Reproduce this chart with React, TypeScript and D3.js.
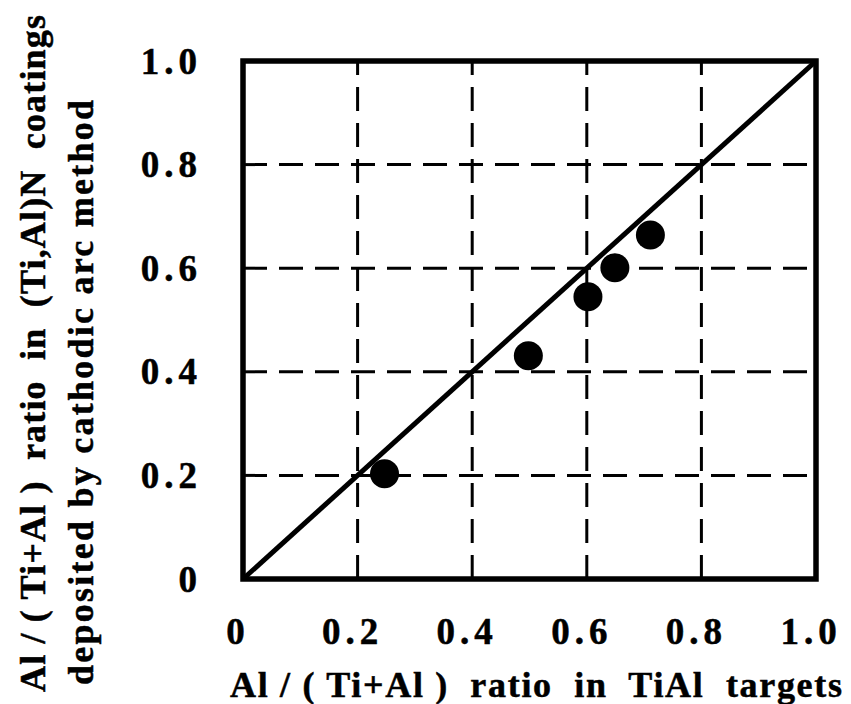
import * as d3 from "d3";

const ticks = [0, 0.2, 0.4, 0.6, 0.8, 1.0];
const tickLabels = ["0", "0.2", "0.4", "0.6", "0.8", "1.0"];
const gridValues = [0.2, 0.4, 0.6, 0.8];
const targetRatio = [0.247, 0.498, 0.602, 0.649, 0.711];
const coatingRatio = [0.203, 0.431, 0.545, 0.601, 0.664];
const xTitle = "Al / ( Ti+Al )  ratio  in  TiAl  targets";
const yTitle1 = "Al / ( Ti+Al )  ratio  in  (Ti,Al)N  coatings";
const yTitle2 = "deposited by cathodic arc method";

const App = () => {
  const width = 851;
  const height = 704;
  const plot = { left: 243, right: 816, top: 61, bottom: 579 };
  const font = "'Liberation Serif', 'Times New Roman', serif";

  const x = d3.scaleLinear().domain([0, 1]).range([plot.left, plot.right]);
  const y = d3.scaleLinear().domain([0, 1]).range([plot.bottom, plot.top]);
  const points = targetRatio.map((v, i) => ({ x: v, y: coatingRatio[i] }));
  const diag = d3.line<[number, number]>().x((d) => x(d[0])).y((d) => y(d[1]));

  return (
    <svg
      width={width}
      height={height}
      style={{ position: "absolute", left: 0, top: 0, background: "#fff" }}
      fontFamily={font}
      fontWeight="bold"
    >
      <rect width={width} height={height} fill="#fff" />
      {/* grid */}
      {gridValues.map((g) => (
        <g key={g} stroke="#000" strokeWidth={3} strokeDasharray="24 12">
          <line x1={x(g)} x2={x(g)} y1={y(0)} y2={y(1)} />
          <line x1={x(0)} x2={x(1)} y1={y(g)} y2={y(g)} />
        </g>
      ))}
      {/* y = x line */}
      <path
        d={diag([[0, 0], [1, 1]]) ?? ""}
        stroke="#000"
        strokeWidth={5}
        fill="none"
      />
      {/* frame */}
      <rect
        x={plot.left}
        y={plot.top}
        width={plot.right - plot.left}
        height={plot.bottom - plot.top}
        fill="none"
        stroke="#000"
        strokeWidth={5.5}
      />
      {points.map((p, i) => (
        <circle key={i} cx={x(p.x)} cy={y(p.y)} r={14.5} fill="#000" />
      ))}
      <g stroke="#000" strokeWidth={0.5}>
        {/* tick labels */}
        {ticks.map((t, i) => (
          <text
            key={"x" + t}
            x={x(t) - 5}
            y={644}
            textAnchor="middle"
            fontSize={37}
            letterSpacing={5}
          >
            {tickLabels[i]}
          </text>
        ))}
        {ticks.map((t, i) => (
          <text
            key={"y" + t}
            x={202}
            y={y(t) + 12.5}
            textAnchor="end"
            fontSize={37}
            letterSpacing={5}
          >
            {tickLabels[i]}
          </text>
        ))}
        {/* axis titles */}
        <text
          x={230}
          y={697}
          fontSize={36}
          textLength={612}
          lengthAdjust="spacing"
          style={{ whiteSpace: "pre" }}
        >
          {xTitle}
        </text>
        <text
          transform="translate(45,692) rotate(-90)"
          fontSize={36}
          textLength={677}
          lengthAdjust="spacing"
          style={{ whiteSpace: "pre" }}
        >
          {yTitle1}
        </text>
        <text
          transform="translate(93,685) rotate(-90)"
          fontSize={36}
          textLength={585}
          lengthAdjust="spacing"
          style={{ whiteSpace: "pre" }}
        >
          {yTitle2}
        </text>
      </g>
    </svg>
  );
};

export default App;
